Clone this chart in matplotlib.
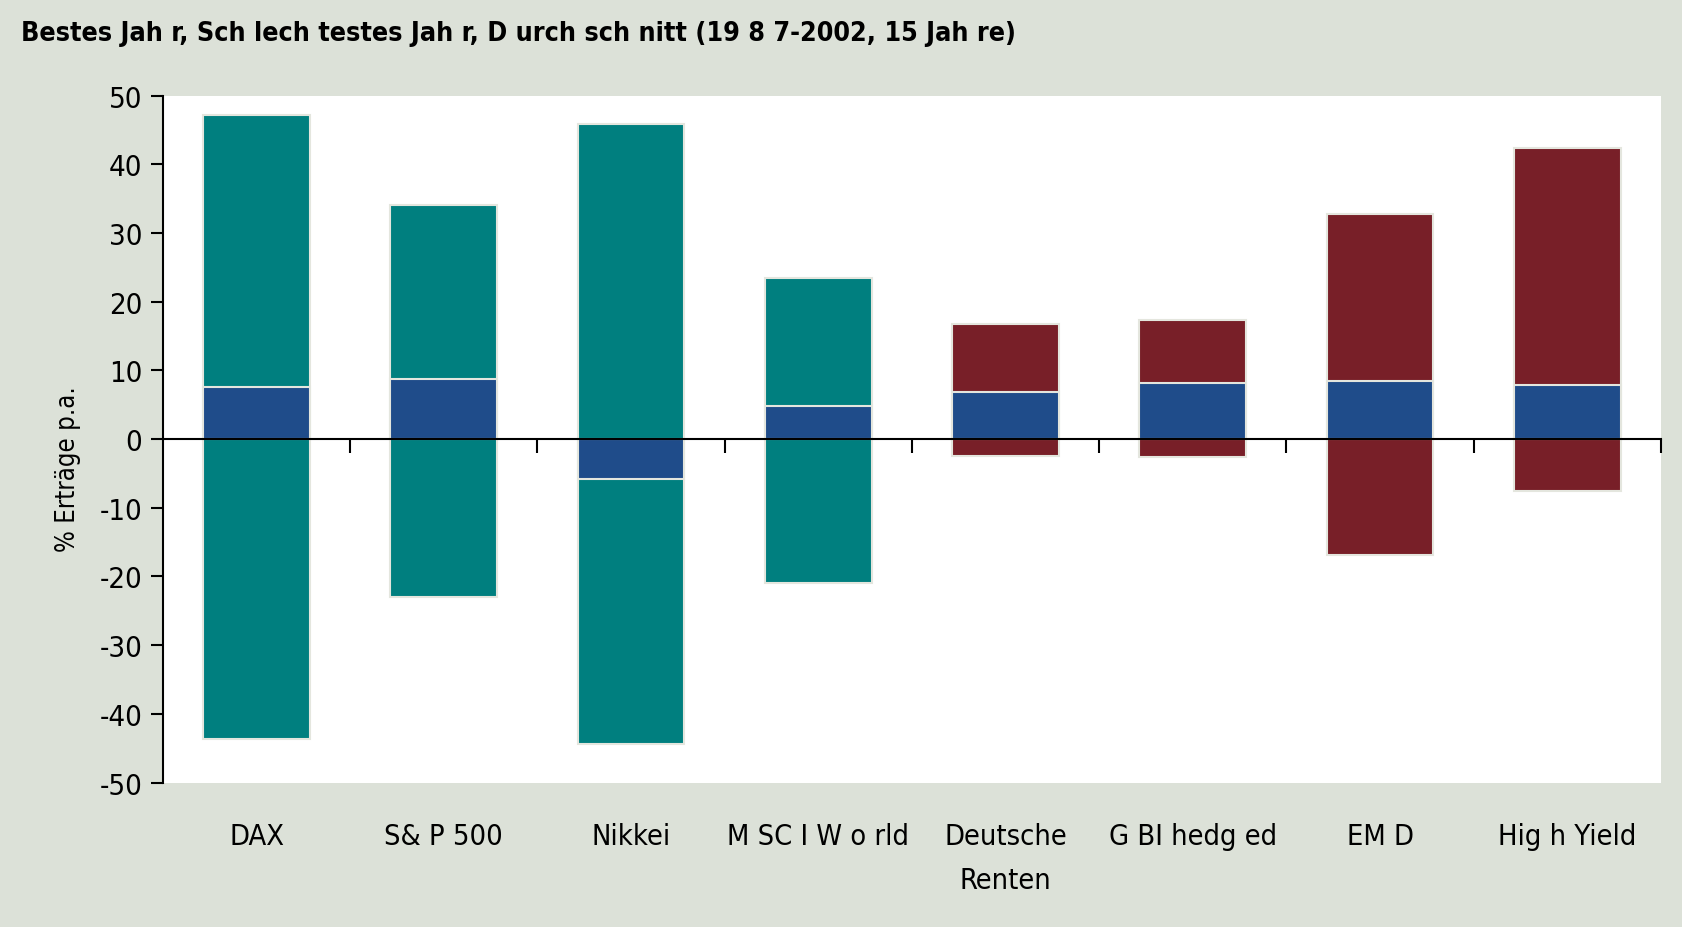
import matplotlib
matplotlib.use("Agg")
import matplotlib.pyplot as plt
from matplotlib import font_manager as fm
from matplotlib.transforms import blended_transform_factory

categories = ["DAX", "S& P 500", "Nikkei", "M SC I W o rld", "Deutsche\nRenten",
              "G BI hedg ed", "EM D", "Hig h Yield"]
best = [47.2, 34.1, 45.9, 23.5, 16.8, 17.4, 32.8, 42.4]
worst = [-43.6, -23.0, -44.4, -21.0, -2.4, -2.6, -16.9, -7.6]
average = [7.6, 8.7, -5.85, 4.8, 6.8, 8.2, 8.5, 7.9]
asset_type = ["equity", "equity", "equity", "equity", "bond", "bond", "bond", "bond"]
yticks = [50, 40, 30, 20, 10, 0, -10, -20, -30, -40, -50]

title = "Bestes Jah r, Sch lech testes Jah r, D urch sch nitt (19 8 7-2002, 15 Jah re)"
ylabel = "% Erträge p.a."

# look for an upright condensed face among installed fonts
CONDS = ("condensed", "semi-condensed", "extra-condensed", "ultra-condensed")
cond = [f for f in fm.fontManager.ttflist
        if str(f.stretch) in CONDS and f.style == "normal"]
reg = [f for f in cond if f.weight in (400, "normal", "regular")]
bold = [f for f in cond if f.weight in (700, "bold")]
fam_names = {f.name for f in fm.fontManager.ttflist}
if reg:
    fp_reg = fm.FontProperties(fname=reg[0].fname)
    fp_bold = fm.FontProperties(fname=bold[0].fname) if bold else fm.FontProperties(fname=reg[0].fname, weight='bold')
else:
    base = "Roboto" if "Roboto" in fam_names else "DejaVu Sans"
    fp_reg = fm.FontProperties(family=[base, "DejaVu Sans"])
    fp_bold = fm.FontProperties(family=[base, "DejaVu Sans"], weight='bold')

BG = "#DCE1D8"
colors = {"equity": "#007F7F", "bond": "#781F28"}
BLUE = "#1F4C8A"
EDGE = "#E4E6DE"

fig = plt.figure(figsize=(16.82, 9.28), dpi=100, facecolor=BG)
ax = fig.add_axes([0.0969, 0.1557, 0.8906, 0.7401])
ax.set_facecolor("white")
renderer = fig.canvas.get_renderer()

def fit_size(text, fp, target_px, start):
    t = fig.text(0, 0, text, fontproperties=fp, fontsize=start)
    w = t.get_window_extent(renderer).width
    t.remove()
    return start * target_px / w

x = list(range(len(categories)))
span = [b - w for b, w in zip(best, worst)]
ax.bar(x, span, bottom=worst, width=0.57, color=[colors[t] for t in asset_type],
       edgecolor=EDGE, linewidth=1.5, zorder=2)
ax.bar(x, average, bottom=0, width=0.57, color=BLUE, edgecolor=EDGE,
       linewidth=1.5, zorder=3)

ax.set_xlim(-0.5, len(categories) - 0.5)
ax.set_ylim(-50, 50)
ax.set_yticks(yticks)
tick_size = min(30, fit_size("-50", fp_reg, 43, 25))
ax.set_yticklabels([str(v) for v in yticks], fontproperties=fp_reg, fontsize=tick_size)
ax.tick_params(axis='y', direction='out', length=9, width=1.5, pad=6, colors='black')

for s in ["top", "right"]:
    ax.spines[s].set_visible(False)
ax.spines["left"].set_linewidth(1.5)
ax.spines["bottom"].set_position(("data", 0))
ax.spines["bottom"].set_linewidth(1.5)
ax.spines["bottom"].set_zorder(5)
bounds = [i + 0.5 for i in range(len(categories))]
ax.set_xticks(bounds)
ax.set_xticklabels([])
ax.tick_params(axis='x', direction='out', length=10, width=1.5)

cat_size = min(30, fit_size("Deutsche", fp_reg, 134, 25),
               fit_size("M SC I W o rld", fp_reg, 182, 25))
tr = blended_transform_factory(ax.transData, ax.transAxes)
for i, c in enumerate(categories):
    ax.text(i, -0.058, c, transform=tr, ha='center', va='top',
            fontproperties=fp_reg, fontsize=cat_size, linespacing=1.72)

ax.set_ylabel(ylabel, fontproperties=fp_reg, fontsize=min(22, fit_size(ylabel, fp_reg, 165, 19)))
ax.yaxis.set_label_coords(-0.055, 0.458)
title_size = min(22, fit_size(title, fp_bold, 996, 20))
fig.text(0.0125, 0.963, title, fontproperties=fp_bold, fontsize=title_size, ha='left', va='center')

fig.savefig("out.png", dpi=100, facecolor=BG)
